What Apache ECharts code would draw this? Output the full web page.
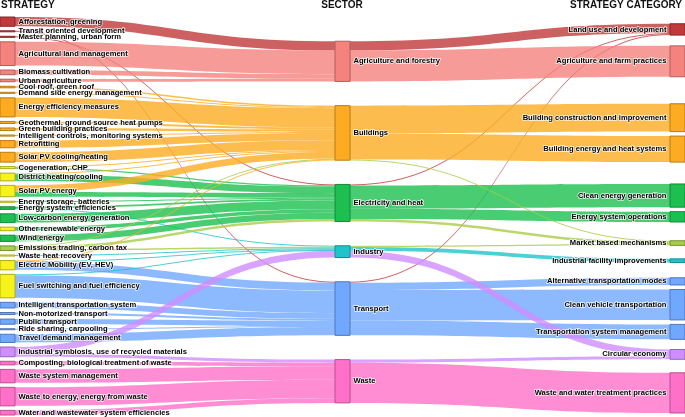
<!DOCTYPE html>
<html><head><meta charset="utf-8">
<script src="https://cdn.jsdelivr.net/npm/echarts@6/dist/echarts.min.js"></script>
<style>html,body{margin:0;padding:0;background:#fff}#c{width:685px;height:417px}</style>
</head><body><div id="c"></div>
<script>
const strategies = [
  'Afforestation, greening','Transit oriented development','Master planning, urban form',
  'Agricultural land management','Biomass cultivation','Urban agriculture',
  'Cool roof, green roof','Demand side energy management','Energy efficiency measures',
  'Geothermal, ground source heat pumps','Green building practices','Intelligent controls, monitoring systems',
  'Retrofitting','Solar PV cooling/heating','Cogeneration, CHP','District heating/cooling',
  'Solar PV energy','Energy storage, batteries','Energy system efficiencies','Low-carbon energy generation',
  'Other renewable energy','Wind energy','Emissions trading, carbon tax','Waste heat recovery',
  'Electric Mobility (EV, HEV)','Fuel switching and fuel efficiency','Intelligent transportation system',
  'Non-motorized transport','Public transport','Ride sharing, carpooling','Travel demand management',
  'Industrial symbiosis, use of recycled materials','Composting, biological treatment of waste',
  'Waste system management','Waste to energy, energy from waste','Water and wastewater system efficiencies'
];
const strategyGroup = [
  'land','land','land','agri','agri','agri','bldg','bldg','bldg','bldg','bldg','bldg','bldg','bldg',
  'multi','multi','multi','multi','elec','elec','multi','elec','market','multi','multi','multi',
  'trans','trans','trans','trans','trans','circ','waste','waste','waste','waste'
];
const sectors = ['Agriculture and forestry','Buildings','Electricity and heat','Industry','Transport','Waste'];
const sectorGroup = ['agri','bldg','elec','ind','trans','waste'];
const categories = [
  'Land use and development','Agriculture and farm practices','Building construction and improvement',
  'Building energy and heat systems','Clean energy generation','Energy system operations',
  'Market based mechanisms','Industrial facility improvements','Alternative transportation modes',
  'Clean vehicle transportation','Transportation system management','Circular economy',
  'Waste and water treatment practices'
];
const categoryGroup = ['land','agri','bldg','bldg','elec','elec','market','ind','trans','trans','trans','circ','waste'];
// sector each strategy category is filed under ('' = cross-sector)
const categoryHomeSector = [
  '','Agriculture and forestry','Buildings','Buildings',
  'Electricity and heat','Electricity and heat','Industry','Industry',
  'Transport','Transport','Transport','Waste','Waste'
];

// flows: [strategy, sector, strategy category, value]
const flows = [
  ['Afforestation, greening','Agriculture and forestry','Land use and development',9],
  ['Transit oriented development','Transport','Land use and development',1],
  ['Master planning, urban form','Electricity and heat','Land use and development',1],
  ['Agricultural land management','Agriculture and forestry','Agriculture and farm practices',23],
  ['Biomass cultivation','Agriculture and forestry','Agriculture and farm practices',4.5],
  ['Urban agriculture','Agriculture and forestry','Agriculture and farm practices',2.5],
  ['Cool roof, green roof','Buildings','Building construction and improvement',1.5],
  ['Demand side energy management','Buildings','Building energy and heat systems',1],
  ['Energy efficiency measures','Buildings','Building construction and improvement',16],
  ['Energy efficiency measures','Buildings','Building energy and heat systems',2.5],
  ['Geothermal, ground source heat pumps','Buildings','Building energy and heat systems',2],
  ['Green building practices','Buildings','Building construction and improvement',2.5],
  ['Intelligent controls, monitoring systems','Buildings','Building energy and heat systems',1],
  ['Retrofitting','Buildings','Building construction and improvement',7],
  ['Solar PV cooling/heating','Buildings','Building energy and heat systems',9.5],
  ['Cogeneration, CHP','Buildings','Building energy and heat systems',1],
  ['Cogeneration, CHP','Electricity and heat','Energy system operations',1],
  ['District heating/cooling','Buildings','Building energy and heat systems',1],
  ['District heating/cooling','Electricity and heat','Energy system operations',6.5],
  ['Solar PV energy','Buildings','Building energy and heat systems',6.5],
  ['Solar PV energy','Electricity and heat','Clean energy generation',4.5],
  ['Energy storage, batteries','Electricity and heat','Energy system operations',1],
  ['Energy system efficiencies','Electricity and heat','Energy system operations',1.5],
  ['Energy system efficiencies','Industry','Industrial facility improvements',1],
  ['Low-carbon energy generation','Electricity and heat','Clean energy generation',8.5],
  ['Other renewable energy','Electricity and heat','Clean energy generation',3.5],
  ['Wind energy','Electricity and heat','Clean energy generation',6],
  ['Emissions trading, carbon tax','Buildings','Market based mechanisms',0.7],
  ['Emissions trading, carbon tax','Electricity and heat','Market based mechanisms',2.5],
  ['Emissions trading, carbon tax','Industry','Market based mechanisms',1.3],
  ['Waste heat recovery','Industry','Industrial facility improvements',1],
  ['Electric Mobility (EV, HEV)','Buildings','Building energy and heat systems',0.7],
  ['Electric Mobility (EV, HEV)','Industry','Industrial facility improvements',0.8],
  ['Electric Mobility (EV, HEV)','Transport','Clean vehicle transportation',7.5],
  ['Fuel switching and fuel efficiency','Industry','Industrial facility improvements',0.8],
  ['Fuel switching and fuel efficiency','Transport','Clean vehicle transportation',22],
  ['Intelligent transportation system','Transport','Transportation system management',5.5],
  ['Non-motorized transport','Transport','Alternative transportation modes',2],
  ['Public transport','Transport','Alternative transportation modes',5],
  ['Ride sharing, carpooling','Transport','Transportation system management',1],
  ['Travel demand management','Transport','Transportation system management',8],
  ['Industrial symbiosis, use of recycled materials','Industry','Circular economy',6.5],
  ['Industrial symbiosis, use of recycled materials','Waste','Circular economy',3],
  ['Composting, biological treatment of waste','Waste','Waste and water treatment practices',3.5],
  ['Waste system management','Waste','Waste and water treatment practices',13],
  ['Waste to energy, energy from waste','Waste','Waste and water treatment practices',18],
  ['Water and wastewater system efficiencies','Waste','Waste and water treatment practices',4.5]
];
const columnTitles = ['STRATEGY','SECTOR','STRATEGY CATEGORY'];

// ---------- styles / layout settings ----------
const palette = {
  land:'#c0393b', agri:'#f4827d', bldg:'#fdac22', multi:'#f5f21c', elec:'#1dbf50',
  market:'#a8cd48', ind:'#1ec4ca', trans:'#70a7ff', circ:'#cf8dff', waste:'#ff70c9'
};
const box = { top: 17, bottom: 2, nodeGap: 4.5, mixedGap: 13.5, nodeWidth: 15, midTopPad: 1, midBottomPad: 0.5 };
const H = 417 - box.top - box.bottom;

function darker(hex, f) {
  const n = parseInt(hex.slice(1), 16);
  const r = Math.round(((n >> 16) & 255) * f), g = Math.round(((n >> 8) & 255) * f), b = Math.round((n & 255) * f);
  return 'rgb(' + r + ',' + g + ',' + b + ')';
}

// node totals derived from flows (same rule as the sankey: max of in/out)
const inV = {}, outV = {};
const add = (m, k, v) => { m[k] = (m[k] || 0) + v; };
flows.forEach(f => { add(outV, f[0], f[3]); add(inV, f[1], f[3]); add(outV, f[1], f[3]); add(inV, f[2], f[3]); });
const nodeValue = n => Math.max(inV[n] || 0, outV[n] || 0);
let ky = Infinity;
[strategies, sectors, categories].forEach(c => {
  const s = c.reduce((a, n) => a + nodeValue(n), 0);
  ky = Math.min(ky, (H - (c.length - 1) * box.nodeGap) / s);
});

// middle column: nodes spread evenly over the height
const sectorTop = {};
(function () {
  const hs = sectors.map(n => nodeValue(n) * ky);
  const free = H - hs.reduce((a, b) => a + b, 0);
  const g = free / (sectors.length - 1 + box.midTopPad + box.midBottomPad);
  let y = g * box.midTopPad;
  sectors.forEach((n, i) => { sectorTop[n] = y; y += hs[i] + g; });
})();
// right column: categories grouped and centred on their home sector
const categoryTop = {};
(function () {
  const blocks = [];
  categories.forEach((c, i) => {
    const home = categoryHomeSector[i];
    let b = blocks[blocks.length - 1];
    if (!b || b.home !== home) { b = { home: home, members: [], h: 0 }; blocks.push(b); }
    if (b.members.length) {
      const prevIdx = categories.indexOf(b.members[b.members.length - 1]);
      b.h += categoryGroup[prevIdx] === categoryGroup[i] ? box.nodeGap : box.mixedGap;
    }
    b.members.push(c);
    b.h += nodeValue(c) * ky;
  });
  blocks.forEach(b => {
    b.top = b.home ? sectorTop[b.home] + nodeValue(b.home) * ky / 2 - b.h / 2 : box.mixedGap / 2;
  });
  let prev = -box.nodeGap;
  blocks.forEach(b => { b.top = Math.max(b.top, prev + box.nodeGap, 0); prev = b.top + b.h; });
  if (prev > H) {
    let lim = H;
    for (let i = blocks.length - 1; i >= 0; i--) {
      const b = blocks[i];
      if (b.top + b.h > lim) b.top = lim - b.h;
      lim = b.top - box.nodeGap;
    }
  }
  blocks.forEach(b => {
    let y = b.top;
    b.members.forEach((c, k) => {
      if (k) {
        const a = categoryGroup[categories.indexOf(b.members[k - 1])], d = categoryGroup[categories.indexOf(c)];
        y += a === d ? box.nodeGap : box.mixedGap;
      }
      categoryTop[c] = y;
      y += nodeValue(c) * ky;
    });
  });
})();

function nodeOf(name, group, top, pos) {
  const c = palette[group];
  const o = { name: name, itemStyle: { color: c, borderColor: darker(c, 0.72), borderWidth: 1 } };
  if (top != null) o.localY = top / H;
  if (pos) o.label = { position: pos };
  return o;
}
const nodes = [];
strategies.forEach((s, i) => nodes.push(nodeOf(s, strategyGroup[i])));
sectors.forEach((s, i) => nodes.push(nodeOf(s, sectorGroup[i], sectorTop[s])));
categories.forEach((s, i) => nodes.push(nodeOf(s, categoryGroup[i], categoryTop[s], 'left')));

const catGroupOf = {};
categories.forEach((c, i) => { catGroupOf[c] = categoryGroup[i]; });
const linkMap = new Map();
function addLink(s, t, g, v) {
  const k = s + '|' + t + '|' + g;
  if (!linkMap.has(k)) linkMap.set(k, { source: s, target: t, value: 0, lineStyle: { color: palette[g], opacity: 0.8 } });
  linkMap.get(k).value += v;
}
flows.forEach(f => addLink(f[0], f[1], catGroupOf[f[2]], f[3]));
flows.forEach(f => addLink(f[1], f[2], catGroupOf[f[2]], f[3]));
const links = Array.from(linkMap.values());

const chart = echarts.init(document.getElementById('c'), null, { renderer: 'canvas' });
const titleStyle = { fontSize: 10, fontWeight: 'bold', color: '#111', fontFamily: 'Liberation Sans, Arial, sans-serif' };
chart.setOption({
  animation: false,
  title: [
    { text: columnTitles[0], left: 1, top: 0, textStyle: titleStyle, padding: 0 },
    { text: columnTitles[1], left: 342, top: 0, textAlign: 'center', textStyle: titleStyle, padding: 0 },
    { text: columnTitles[2], right: 3, top: 0, textStyle: titleStyle, padding: 0 }
  ],
  series: [{
    type: 'sankey',
    left: 0, right: 0, top: box.top, bottom: box.bottom,
    nodeWidth: box.nodeWidth,
    nodeGap: box.nodeGap,
    layoutIterations: 0,
    draggable: false,
    emphasis: { disabled: true },
    data: nodes,
    links: links,
    lineStyle: { curveness: 0.5 },
    label: {
      position: 'right', distance: 3, color: '#000', fontSize: 7.6, fontWeight: 'bold',
      fontFamily: 'Liberation Sans, Arial, sans-serif',
      textBorderColor: 'rgba(255,255,255,0.85)', textBorderWidth: 1.5
    }
  }]
});
</script></body></html>
